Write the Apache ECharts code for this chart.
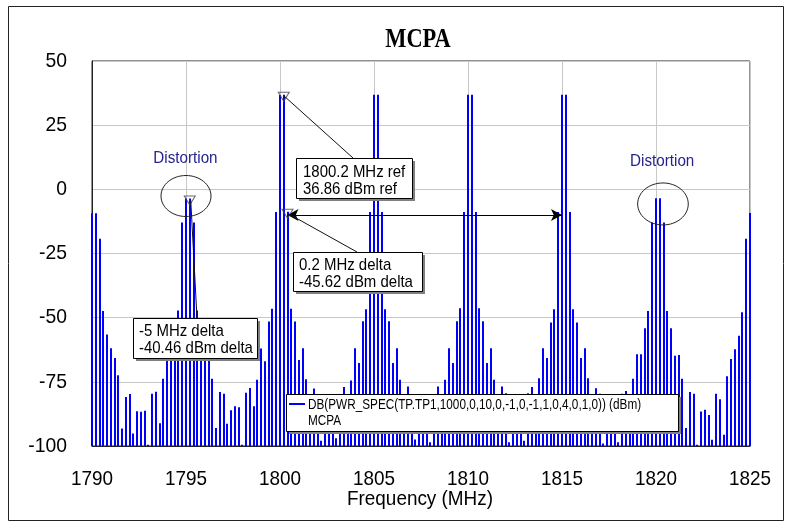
<!DOCTYPE html>
<html>
<head>
<meta charset="utf-8">
<script src="https://cdn.jsdelivr.net/npm/echarts@6/dist/echarts.min.js"></script>
<style>
  html, body { margin: 0; padding: 0; background: #fff; }
  #main { width: 790px; height: 531px; }
</style>
</head>
<body>
<div id="main"></div>
<script>
// spectrum levels (dBm), one value every 0.2 MHz, grouped per 5 MHz block
var step = 0.2;
var blockStart = [1790, 1795, 1800, 1805, 1810, 1815, 1820, 1825];
var lvl1790 = [-9.3, -9.3, -19.3, -47.4, -56.6, -61.9, -65.7, -72.4, -93.2, -80.9, -79.7, -95.1, -86.5, -86.7, -86.3, -99.5, -79.6, -78.9, -91.1, -73.8, -63.8, -64.2, -54, -47.2, -12.9];
var lvl1795 = [-3.6, -3.6, -12.9, -47.2, -54, -64.2, -63.8, -73.8, -93, -79, -79.6, -91.3, -86.1, -84.5, -84.9, -99.5, -79.3, -77.4, -84.5, -74.2, -62, -67, -51.5, -46.5, -8.8];
var lvl1800 = [36.8, 36.86, -8.76, -46.5, -51.5, -66.5, -61.9, -74, -84.5, -77.6, -79.9, -98, -87.5, -86, -88.5, -97, -79.9, -77, -84.5, -74.5, -61.9, -67.7, -51.4, -46.7, -8.8];
var lvl1805 = [36.86, 36.86, -8.8, -46.7, -51.4, -67.7, -61.9, -74.2, -84, -76.8, -79.9, -97.5, -88, -86.5, -88, -98.5, -79.7, -76.8, -84.5, -74.2, -61.9, -67.7, -51.4, -46.3, -8.8];
var lvl1810 = [36.86, 36.86, -8.8, -46.3, -51.4, -67.7, -61.9, -74.2, -84.5, -76.8, -79.4, -98.5, -88, -87, -88.5, -98, -79.4, -77, -84, -73.6, -61.9, -65.7, -51.9, -46.7, -8.8];
var lvl1815 = [36.86, 36.86, -8.8, -46.7, -51.9, -65.7, -61.9, -73.6, -84.5, -77.5, -79.6, -99, -88, -86, -87.5, -98.5, -79.6, -78.6, -84, -73.8, -64.3, -64.3, -54.1, -47.4, -12.9];
var lvl1820 = [-3.5, -3.5, -12.9, -47.4, -54.1, -64.8, -64.5, -73.8, -93, -79, -79.6, -99.5, -86.6, -85.9, -87.9, -97.6, -79.6, -81.8, -95.6, -72.8, -66.1, -62.3, -57, -47.9, -19.3];
var lvl1825 = [-9.2];

// markers: ref, -5 MHz delta, 0.2 MHz delta
var markerFreq = [1800.2, 1795.2, 1800.4];
var markerLevel = [36.86, -3.6, -8.76];

var xTicks = [1790, 1795, 1800, 1805, 1810, 1815, 1820, 1825];
var yTicks = [50, 25, 0, -25, -50, -75, -100];

var seriesName = 'DB(PWR_SPEC(TP.TP1,1000,0,10,0,-1,0,-1,1,0,4,0,1,0)) (dBm)';

var blocks = [lvl1790, lvl1795, lvl1800, lvl1805, lvl1810, lvl1815, lvl1820, lvl1825];
var spectrum = [];
blocks.forEach(function (vals, b) {
    vals.forEach(function (v, i) {
        spectrum.push([+(blockStart[b] + step * i).toFixed(1), v]);
    });
});
var markers = markerFreq.map(function (f, i) { return [f, markerLevel[i]]; });

var chartDom = document.getElementById('main');
var myChart = echarts.init(chartDom, null, { renderer: 'canvas' });

var option = {
    animation: false,
    backgroundColor: '#fff',
    grid: { left: 92, right: 40, top: 61, bottom: 85, show: true, borderColor: '#222', borderWidth: 1 },
    xAxis: {
        type: 'value', min: 1790, max: 1825, interval: 5,
        axisLabel: { show: false }, axisTick: { show: false },
        axisLine: { onZero: false, lineStyle: { color: '#222' } },
        splitLine: { lineStyle: { color: '#c8c8c8', width: 1 } }
    },
    yAxis: {
        type: 'value', min: -100, max: 50, interval: 25,
        axisLabel: { show: false }, axisTick: { show: false },
        axisLine: { show: true, onZero: false, lineStyle: { color: '#222' } },
        splitLine: { lineStyle: { color: '#c8c8c8', width: 1 } }
    },
    series: [{
        name: seriesName,
        type: 'custom',
        encode: { x: 0, y: 1 },
        data: spectrum,
        z: 3,
        renderItem: function (params, api) {
            var p0 = api.coord([api.value(0), -100]);
            var p1 = api.coord([api.value(0), api.value(1)]);
            var x = Math.round(p0[0]);
            return {
                type: 'line',
                shape: { x1: x, y1: p0[1], x2: x, y2: p1[1] },
                style: { stroke: '#0000ff', lineWidth: 2 }
            };
        }
    }, {
        name: 'markers',
        type: 'scatter',
        data: markers,
        z: 5,
        symbol: 'triangle',
        symbolRotate: 180,
        symbolSize: [11, 9],
        symbolOffset: [0, 2],
        itemStyle: { color: 'rgba(0,0,0,0)', borderColor: '#444', borderWidth: 1 },
        markLine: {
            silent: true,
            symbol: ['arrow', 'arrow'],
            symbolSize: [9, 11],
            label: { show: false },
            lineStyle: { color: '#000', width: 1, type: 'solid' },
            data: [[{ coord: [1800.4, -10] }, { coord: [1815.0, -10] }]]
        }
    }]
};
option && myChart.setOption(option);

function px(f, v) { return myChart.convertToPixel({ gridIndex: 0 }, [f, v]); }

function txt(x, y, s, size, sx, align, fam, weight, color) {
    return {
        type: 'text', x: x, y: y, scaleX: sx, z: 102,
        style: {
            text: s, fill: color || '#000', align: align, verticalAlign: 'middle',
            font: (weight || 'normal') + ' ' + size + 'px ' + (fam || '"Liberation Sans", Arial, sans-serif')
        }
    };
}
function box(x, y, w, h) {
    return [
        { type: 'rect', z: 99, shape: { x: x + 3, y: y + 3, width: w, height: h }, style: { fill: '#808080' } },
        { type: 'rect', z: 100, shape: { x: x + 0.5, y: y + 0.5, width: w, height: h }, style: { fill: '#fff', stroke: '#000', lineWidth: 1 } }
    ];
}
function seg(a, b) {
    return { type: 'line', z: 101, shape: { x1: a[0], y1: a[1], x2: b[0], y2: b[1] }, style: { stroke: '#111', lineWidth: 1 } };
}

var g = [];
// outer frame
g.push({ type: 'rect', z: 1, shape: { x: 8.5, y: 6.5, width: 775, height: 514 }, style: { fill: 'none', stroke: '#222', lineWidth: 1 } });
// title
g.push(txt(418, 40, 'MCPA', 27, 0.83, 'center', '"Liberation Serif", "Times New Roman", serif', 'bold'));
// tick labels
yTicks.forEach(function (t) { var p = px(1790, t); g.push(txt(67, p[1], String(t), 21, 0.92, 'right')); });
xTicks.forEach(function (t) { var p = px(t, -100); g.push(txt(p[0], 479, String(t), 21, 0.9, 'center')); });
g.push(txt(420, 499, 'Frequency (MHz)', 21, 0.9, 'center'));

// legend
g = g.concat(box(286, 394, 392, 37));
g.push({ type: 'line', z: 101, shape: { x1: 289, y1: 404, x2: 305, y2: 404 }, style: { stroke: '#0000ff', lineWidth: 2 } });
g.push(txt(308, 405, seriesName, 14, 0.84, 'left'));
g.push(txt(308, 421, 'MCPA', 14, 0.84, 'left'));

// marker annotations
var mRef = px(markerFreq[0], markerLevel[0]);
var mDist = px(markerFreq[1], markerLevel[1]);
var mDelta = px(markerFreq[2], markerLevel[2]);
g.push(seg([mRef[0], mRef[1] + 1], [353, 158]));
g.push(seg([mDelta[0] + 1, mDelta[1] + 2], [357, 252]));
g.push(seg([mDist[0] + 1, mDist[1] + 2], [197, 318]));
g = g.concat(box(296, 158, 116, 40));
g.push(txt(303, 172, '1800.2 MHz ref', 17, 0.88, 'left'));
g.push(txt(303, 189, '36.86 dBm ref', 17, 0.88, 'left'));
g = g.concat(box(293, 252, 129, 39));
g.push(txt(299, 265, '0.2 MHz delta', 17, 0.88, 'left'));
g.push(txt(299, 282, '-45.62 dBm delta', 17, 0.88, 'left'));
g = g.concat(box(133, 318, 124, 40));
g.push(txt(139, 331, '-5 MHz delta', 17, 0.88, 'left'));
g.push(txt(139, 348, '-40.46 dBm delta', 17, 0.88, 'left'));

// distortion notes
var e1 = px(1795.0, -2.6), e2 = px(1820.37, -5.7);
g.push({ type: 'ellipse', z: 101, shape: { cx: e1[0], cy: e1[1], rx: 25, ry: 20.5 }, style: { fill: 'none', stroke: '#222', lineWidth: 1 } });
g.push({ type: 'ellipse', z: 101, shape: { cx: e2[0], cy: e2[1], rx: 25.3, ry: 21 }, style: { fill: 'none', stroke: '#222', lineWidth: 1 } });
var d1 = px(1794.97, 11.8), d2 = px(1820.33, 11);
g.push(txt(d1[0], d1[1], 'Distortion', 16, 0.95, 'center', null, null, '#24248c'));
g.push(txt(d2[0], d2[1], 'Distortion', 16, 0.95, 'center', null, null, '#24248c'));

myChart.setOption({ graphic: { elements: g } });
</script>
</body>
</html>
